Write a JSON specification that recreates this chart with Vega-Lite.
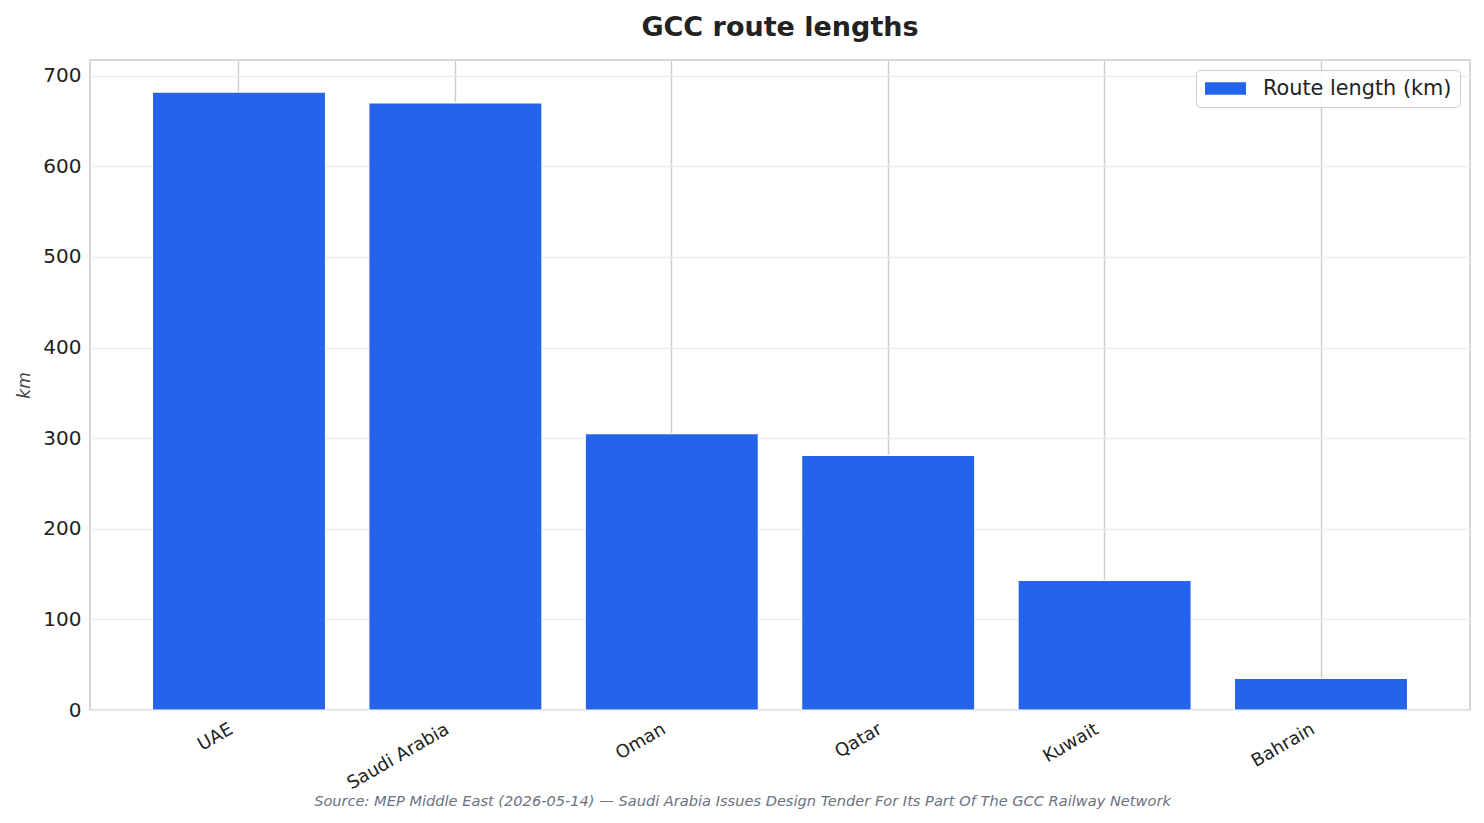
{
  "$schema": "https://vega.github.io/schema/vega-lite/v6.json",
  "width": 1380,
  "height": 650,
  "autosize": {"type": "none"},
  "padding": {"left": 90, "top": 60, "right": 14, "bottom": 113},
  "background": "white",
  "title": {
    "text": "GCC route lengths",
    "fontSize": 27,
    "fontWeight": "bold",
    "font": "DejaVu Sans",
    "color": "#222222",
    "anchor": "middle",
    "frame": "group",
    "baseline": "alphabetic",
    "offset": -3
  },
  "config": {
    "font": "DejaVu Sans",
    "view": {"stroke": "#cccccc", "strokeWidth": 1.6}
  },
  "data": {
    "values": [
      {"country": "UAE", "km": 682},
      {"country": "Saudi Arabia", "km": 670},
      {"country": "Oman", "km": 305},
      {"country": "Qatar", "km": 281},
      {"country": "Kuwait", "km": 143},
      {"country": "Bahrain", "km": 35}
    ]
  },
  "mark": {"type": "bar", "stroke": "white", "strokeWidth": 1.2},
  "encoding": {
    "x": {
      "field": "country",
      "type": "nominal",
      "sort": null,
      "scale": {"paddingInner": 0.2, "paddingOuter": 0.2885},
      "axis": {
        "title": "Source: MEP Middle East (2026-05-14) — Saudi Arabia Issues Design Tender For Its Part Of The GCC Railway Network",
        "titleFont": "DejaVu Sans",
        "titleFontStyle": "italic",
        "titleFontWeight": "normal",
        "titleFontSize": 14.6,
        "titleColor": "#6b7280",
        "titleX": 652,
        "titleY": 95,
        "titleAlign": "center",
        "titleBaseline": "alphabetic",
        "labelAngle": -30,
        "labelAlign": "right",
        "labelBaseline": "top",
        "labelFontSize": 18,
        "labelColor": "#222222",
        "labelPadding": 10,
        "labelOffset": -12,
        "ticks": false,
        "domain": false,
        "grid": true,
        "gridColor": "#cccccc",
        "gridWidth": 1.4
      }
    },
    "y": {
      "field": "km",
      "type": "quantitative",
      "scale": {"domain": [0, 717.4], "nice": false, "zero": true},
      "axis": {
        "title": "km",
        "titleFontStyle": "italic",
        "titleFontWeight": "normal",
        "titleFontSize": 17,
        "titleColor": "#444444",
        "titleX": -66,
        "titleY": 325,
        "titleAlign": "center",
        "titleBaseline": "middle",
        "titleAngle": -90,
        "values": [0, 100, 200, 300, 400, 500, 600, 700],
        "labelFontSize": 20,
        "labelColor": "#222222",
        "labelPadding": 9,
        "ticks": false,
        "domain": false,
        "grid": true,
        "gridColor": "#ececec",
        "gridWidth": 1.4
      }
    },
    "color": {
      "datum": "Route length (km)",
      "scale": {"range": ["#2563EB"]},
      "legend": {
        "title": null,
        "orient": "none",
        "legendX": 1106,
        "legendY": 10,
        "fillColor": "rgba(255,255,255,0.8)",
        "strokeColor": "#cccccc",
        "cornerRadius": 4,
        "padding": 8,
        "labelFontSize": 20.8,
        "labelColor": "#222222",
        "labelLimit": 400,
        "labelOffset": 27,
        "symbolOffset": 11,
        "symbolType": "M-2,-0.6L2,-0.6L2,0.6L-2,0.6Z",
        "symbolSize": 420,
        "symbolStrokeWidth": 0,
        "symbolOpacity": 1
      }
    }
  }
}
